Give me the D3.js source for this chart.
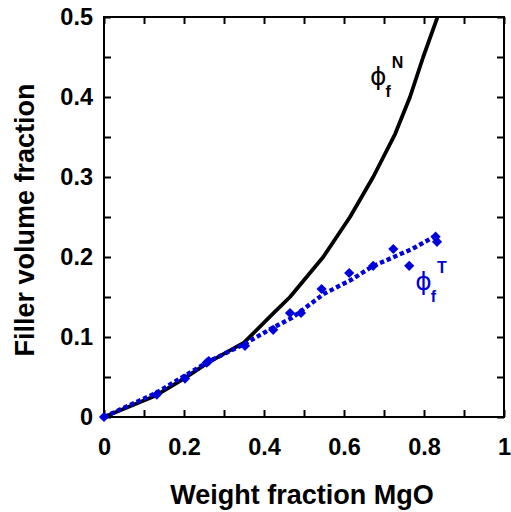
<!DOCTYPE html>
<html>
<head>
<meta charset="utf-8">
<script src="https://cdn.jsdelivr.net/npm/d3@7"></script>
<style>
  body { margin: 0; background: #fff; }
  text { font-family: "Liberation Sans", Arial, sans-serif; }
</style>
</head>
<body>
<div id="chart"></div>
<script>
// black curve: phi_f^N
const nX = [0, 0.13, 0.2, 0.26, 0.35, 0.42, 0.465, 0.548, 0.615, 0.673, 0.728, 0.765, 0.798, 0.836];
const nY = [0, 0.027, 0.048, 0.068, 0.093, 0.128, 0.150, 0.200, 0.250, 0.300, 0.354, 0.400, 0.450, 0.503];

// blue dotted fit line: phi_f^T
const tLineX = [0, 0.13, 0.2, 0.26, 0.35, 0.42, 0.47, 0.55, 0.62, 0.67, 0.72, 0.77, 0.828];
const tLineY = [0, 0.030, 0.051, 0.069, 0.091, 0.111, 0.124, 0.154, 0.172, 0.188, 0.199, 0.210, 0.226];

// blue diamonds (measured)
const tPtX = [0, 0.132, 0.2025, 0.257, 0.262, 0.3525, 0.423, 0.465, 0.4925, 0.544, 0.613, 0.673, 0.7233, 0.763, 0.829, 0.8325];
const tPtY = [0, 0.028, 0.048, 0.068, 0.070, 0.089, 0.109, 0.130, 0.130, 0.160, 0.180, 0.189, 0.210, 0.189, 0.2254, 0.219];

const xMajor = [0, 0.2, 0.4, 0.6, 0.8, 1];
const xMinor = [0.1, 0.3, 0.5, 0.7, 0.9];
const yMajor = [0, 0.1, 0.2, 0.3, 0.4, 0.5];
const yMinor = [0.05, 0.15, 0.25, 0.35, 0.45];

const W = 511, H = 512;
const margin = {left: 104, top: 17};
const pw = 400, ph = 400;
const blue = "#0000dd";

const svg = d3.select("#chart").append("svg")
  .attr("width", W).attr("height", H);

const x = d3.scaleLinear().domain([0, 1]).range([margin.left, margin.left + pw]);
const y = d3.scaleLinear().domain([0, 0.5]).range([margin.top + ph, margin.top]);

svg.append("defs").append("clipPath").attr("id", "clip")
  .append("rect")
  .attr("x", margin.left).attr("y", margin.top - 1)
  .attr("width", pw).attr("height", ph + 2);

// axes with inward ticks
const tickLen = 7;
const fmt = d => d === 0 ? "0" : (d === 1 ? "1" : d3.format(".1f")(d));
const allX = xMajor.concat(xMinor);
const allY = yMajor.concat(yMinor);

function styleAxis(g) {
  g.select(".domain").remove();
  g.selectAll("line").attr("stroke", "#000").attr("stroke-width", 2);
  g.selectAll("text")
    .attr("font-size", 23.5)
    .attr("font-weight", "bold")
    .attr("fill", "#000");
}

const gx = svg.append("g")
  .attr("transform", `translate(0,${margin.top + ph})`)
  .call(d3.axisBottom(x).tickValues(allX).tickSizeInner(-tickLen).tickSizeOuter(0)
    .tickPadding(21).tickFormat(d => xMajor.includes(d) ? fmt(d) : ""));
styleAxis(gx);

svg.append("g")
  .attr("transform", `translate(0,${margin.top})`)
  .call(d3.axisTop(x).tickValues(allX).tickSizeInner(-tickLen).tickSizeOuter(0).tickFormat(""))
  .call(styleAxis);

const gy = svg.append("g")
  .attr("transform", `translate(${margin.left},0)`)
  .call(d3.axisLeft(y).tickValues(allY).tickSizeInner(-tickLen).tickSizeOuter(0)
    .tickPadding(11).tickFormat(d => yMajor.includes(d) ? fmt(d) : ""));
styleAxis(gy);

svg.append("g")
  .attr("transform", `translate(${margin.left + pw},0)`)
  .call(d3.axisRight(y).tickValues(allY).tickSizeInner(-tickLen).tickSizeOuter(0).tickFormat(""))
  .call(styleAxis);

// frame
svg.append("rect")
  .attr("x", margin.left).attr("y", margin.top)
  .attr("width", pw).attr("height", ph)
  .attr("fill", "none").attr("stroke", "#000").attr("stroke-width", 2);

const plot = svg.append("g").attr("clip-path", "url(#clip)");

const line = d3.line().x(d => x(d[0])).y(d => y(d[1]));

// phi_f^N curve
plot.append("path")
  .datum(d3.zip(nX, nY))
  .attr("d", line)
  .attr("fill", "none")
  .attr("stroke", "#000")
  .attr("stroke-width", 3.8)
  .attr("stroke-linejoin", "round");

// phi_f^T dotted line
plot.append("path")
  .datum(d3.zip(tLineX, tLineY))
  .attr("d", line)
  .attr("fill", "none")
  .attr("stroke", blue)
  .attr("stroke-width", 4.4)
  .attr("stroke-dasharray", "4.4 2.8");

// diamonds
svg.append("g").selectAll("path")
  .data(d3.zip(tPtX, tPtY))
  .join("path")
  .attr("d", d3.symbol(d3.symbolSquare, 52))
  .attr("transform", d => `translate(${x(d[0])},${y(d[1])}) rotate(45)`)
  .attr("fill", blue);

// curve labels
function phiLabel(px, py, sup, color) {
  const t = svg.append("text")
    .attr("x", x(px)).attr("y", y(py))
    .attr("fill", color);
  t.append("tspan").attr("font-size", 25).attr("font-family", "'DejaVu Sans', sans-serif")
    .text("ϕ");
  t.append("tspan").attr("font-size", 16).attr("font-weight", "bold")
    .attr("dx", -1).attr("dy", 12).text("f");
  t.append("tspan").attr("font-size", 16).attr("font-weight", "bold")
    .attr("dx", 1).attr("dy", -29).text(sup);
}
phiLabel(0.665, 0.415, "N", "#000");
phiLabel(0.778, 0.159, "T", blue);

// axis titles
svg.append("text")
  .attr("x", x(0.495)).attr("y", 504)
  .attr("text-anchor", "middle")
  .attr("font-size", 27).attr("font-weight", "bold")
  .text("Weight fraction MgO");

svg.append("text")
  .attr("transform", `translate(34,${220}) rotate(-90)`)
  .attr("text-anchor", "middle")
  .attr("font-size", 27).attr("font-weight", "bold")
  .text("Filler volume fraction");
</script>
</body>
</html>
